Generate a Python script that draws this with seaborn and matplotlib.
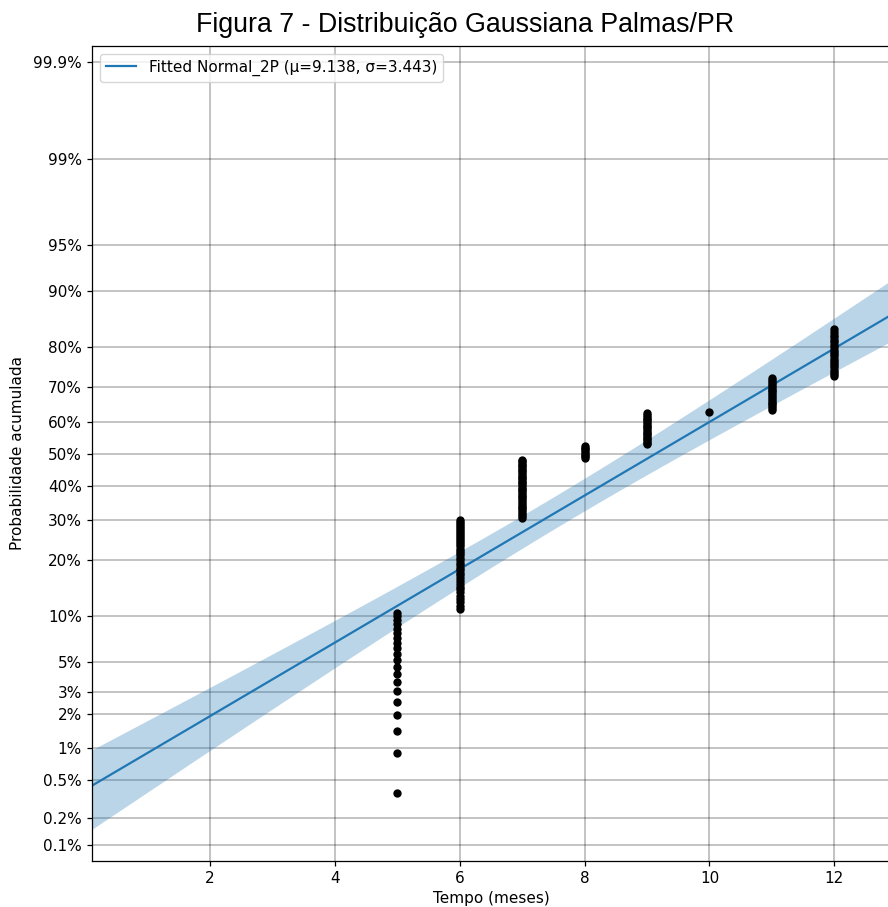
import math
import numpy as np
import pandas as pd
import matplotlib
matplotlib.use("Agg")
import matplotlib.pyplot as plt
import seaborn as sns
from matplotlib.ticker import FixedLocator, FixedFormatter, NullLocator

# ---------------- data ----------------
failure_times = [5, 6, 7, 8, 9, 10, 11, 12]
failure_counts = [20, 37, 34, 8, 19, 1, 18, 21]
n_censored = 30            # right-censored units (beyond last failure)
mu = 9.138
sigma = 3.443
var_mu = 0.060
var_sigma = 0.052
cov_mu_sigma = 0.0234
ci_level = 0.95
ytick_probs = [0.001, 0.002, 0.005, 0.01, 0.02, 0.03, 0.05, 0.1, 0.2, 0.3,
               0.4, 0.5, 0.6, 0.7, 0.8, 0.9, 0.95, 0.99, 0.999]
ytick_labels = ['0.1%', '0.2%', '0.5%', '1%', '2%', '3%', '5%', '10%', '20%', '30%',
                '40%', '50%', '60%', '70%', '80%', '90%', '95%', '99%', '99.9%']
xticks = [2, 4, 6, 8, 10, 12]
title = "Figura 7 - Distribuição Gaussiana Palmas/PR"
legend_label = "Fitted Normal_2P (μ=9.138, σ=3.443)"

# ---------------- normal helpers ----------------
_erf = np.vectorize(math.erf, otypes=[float])


def norm_cdf(z):
    z = np.asarray(z, dtype=float)
    if z.size == 0:
        return z.copy()
    return 0.5 * (1.0 + _erf(z / math.sqrt(2.0)))


def norm_ppf(p):
    p = np.asarray(p, dtype=float)
    if p.size == 0:
        return p.copy()
    p = np.clip(p, 1e-12, 1 - 1e-12)
    a = [-3.969683028665376e+01, 2.209460984245205e+02, -2.759285104469687e+02,
         1.383577518672690e+02, -3.066479806614716e+01, 2.506628277459239e+00]
    b = [-5.447609879822406e+01, 1.615858368580409e+02, -1.556989798598866e+02,
         6.680131188771972e+01, -1.328068155288572e+01]
    c = [-7.784894002430293e-03, -3.223964580411365e-01, -2.400758276161838e+00,
         -2.549732539343734e+00, 4.374664141464968e+00, 2.938163982698783e+00]
    d = [7.784695709041462e-03, 3.224671290700398e-01, 2.445134137142996e+00,
         3.754408661907416e+00]
    plow = 0.02425
    q = p - 0.5
    r = q * q
    xc = (((((a[0]*r + a[1])*r + a[2])*r + a[3])*r + a[4])*r + a[5]) * q / \
         (((((b[0]*r + b[1])*r + b[2])*r + b[3])*r + b[4])*r + 1)
    ql = np.sqrt(-2 * np.log(np.minimum(p, 0.5)))
    xl = (((((c[0]*ql + c[1])*ql + c[2])*ql + c[3])*ql + c[4])*ql + c[5]) / \
         ((((d[0]*ql + d[1])*ql + d[2])*ql + d[3])*ql + 1)
    qu = np.sqrt(-2 * np.log(np.minimum(1 - p, 0.5)))
    xu = -(((((c[0]*qu + c[1])*qu + c[2])*qu + c[3])*qu + c[4])*qu + c[5]) / \
         ((((d[0]*qu + d[1])*qu + d[2])*qu + d[3])*qu + 1)
    x = np.where(p < plow, xl, np.where(p > 1 - plow, xu, xc))
    e = norm_cdf(x) - p
    u = e * math.sqrt(2 * math.pi) * np.exp(x * x / 2)
    x = x - u / (1 + x * u / 2)
    return x


# ---------------- derived plotting data ----------------
n_total = sum(failure_counts) + n_censored
fail_x = np.repeat(failure_times, failure_counts)
ranks = np.arange(1, len(fail_x) + 1)
fail_y = (ranks - 0.3) / (n_total + 0.4)   # median-rank plotting positions
points = pd.DataFrame({"t": fail_x, "F": fail_y})

x_line = np.linspace(-1, 15, 400)
line = pd.DataFrame({"t": x_line, "F": norm_cdf((x_line - mu) / sigma)})

z_ci = float(norm_ppf(0.5 + ci_level / 2))
zz = np.linspace(-4.2, 4.2, 600)
t_mid = mu + sigma * zz
t_sd = np.sqrt(var_mu + zz**2 * var_sigma + 2 * zz * cov_mu_sigma)
band_p = norm_cdf(zz)

# ---------------- figure ----------------
W, H = 888, 907
FS = 11
fig = plt.figure(figsize=(W / 100, H / 100), dpi=100)
ax = fig.add_axes([92 / W, (H - 860.7) / H, (890 - 92) / W, (860.7 - 46) / H])

ax.set_yscale('function', functions=(norm_ppf, norm_cdf))

ax.fill_betweenx(band_p, t_mid - z_ci * t_sd, t_mid + z_ci * t_sd,
                 color='#1f77b4', alpha=0.3, linewidth=0, zorder=1)
sns.lineplot(data=line, x="t", y="F", ax=ax, color='#1f77b4', linewidth=1.6,
             label=legend_label, zorder=2)
sns.scatterplot(data=points, x="t", y="F", ax=ax, color='k', s=36,
                linewidth=0, zorder=3)

ax.set_xlim(0.110, 12.892)
ax.set_ylim(float(norm_cdf(-3.215)), float(norm_cdf(3.220)))
ax.yaxis.set_major_locator(FixedLocator(ytick_probs))
ax.yaxis.set_major_formatter(FixedFormatter(ytick_labels))
ax.yaxis.set_minor_locator(NullLocator())
ax.set_xticks(xticks)
ax.set_xticklabels([str(v) for v in xticks])
ax.tick_params(labelsize=FS, length=3.9, width=0.9)
ax.grid(True, which='major', color='k', alpha=0.3, linewidth=1.1)
ax.set_axisbelow(True)
for s in ax.spines.values():
    s.set_linewidth(0.9)

ax.set_xlabel("Tempo (meses)", fontsize=FS)
ax.set_ylabel("Probabilidade acumulada", fontsize=FS)
ax.yaxis.set_label_coords((18 - 92) / 798, 0.5)
ax.xaxis.set_label_coords(0.5, -(898 - 860.7) / 814.7)
for lbl in (ax.xaxis.label, ax.yaxis.label):
    lbl.set_va('center')

ax.legend(loc='upper left', fontsize=FS)

fig.text(465 / W, 1 - 25 / H, title, ha='center', va='center', fontsize=19.3,
         family=['Liberation Sans', 'DejaVu Sans'])

fig.savefig("out.png", dpi=100)
